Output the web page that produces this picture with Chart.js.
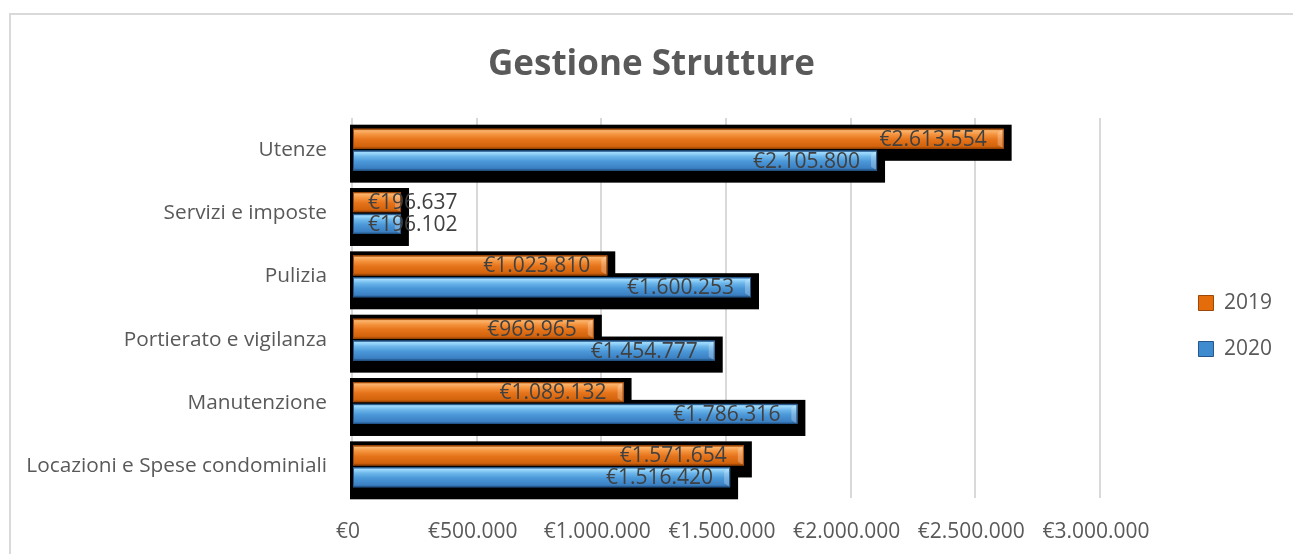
<!DOCTYPE html>
<html>
<head>
<meta charset="utf-8">
<script src="https://cdn.jsdelivr.net/npm/chart.js@4.4.0/dist/chart.umd.min.js"></script>
<style>
    html, body { margin: 0; padding: 0; background: #fff; overflow: hidden; }
    #wrap { position: relative; width: 1293px; height: 554px; }
    #frame { position: absolute; left: 9px; top: 13px; width: 1300px; height: 600px; border: 2px solid #d9d9d9; pointer-events: none; }
</style>
</head>
<body>
<div id="wrap">
    <canvas id="costChart" width="1293" height="554"></canvas>
    <div id="frame"></div>
</div>
<script>
// Dati
var categories = ['Utenze', 'Servizi e imposte', 'Pulizia', 'Portierato e vigilanza', 'Manutenzione', 'Locazioni e Spese condominiali'];
var seriesNames = ['2019', '2020'];
var values2019 = [2613554, 196637, 1023810, 969965, 1089132, 1571654];
var values2020 = [2105800, 196102, 1600253, 1454777, 1786316, 1516420];
var tickValues = [0, 500000, 1000000, 1500000, 2000000, 2500000, 3000000];
var tickMax = 3000000;

function euro(v) {
    return '€' + Math.round(v).toString().replace(/\B(?=(\d{3})+(?!\d))/g, '.');
}

var fontName = '"Open Sans", "DejaVu Sans", sans-serif';

var barColors = {
    '2019': ['#a84c08', '#fbb46c', '#f4923c', '#e5731a', '#d2630c', '#9c4607'],
    '2020': ['#2a5f94', '#a2ddff', '#6cb6ea', '#4a97d8', '#3b80c3', '#24568a']
};

// ombra nera dietro le barre
var shadowPlugin = {
    id: 'shadow',
    beforeDatasetsDraw: function(chart) {
        var ctx = chart.ctx;
        ctx.save();
        ctx.fillStyle = '#000';
        chart.data.datasets.forEach(function(ds, i) {
            chart.getDatasetMeta(i).data.forEach(function(el) {
                var top = el.y - el.height / 2;
                var left = Math.min(el.base, el.x);
                var w = Math.abs(el.x - el.base);
                ctx.fillRect(left - 3, top - 4, w + 3 + 8, el.height + 4 + 12);
            });
        });
        ctx.restore();
    }
};

// effetto rilievo + etichette
var bevelPlugin = {
    id: 'bevel',
    afterDatasetsDraw: function(chart) {
        var ctx = chart.ctx;
        ctx.save();
        chart.data.datasets.forEach(function(ds, i) {
            var stops = barColors[ds.label];
            chart.getDatasetMeta(i).data.forEach(function(el) {
                var top = el.y - el.height / 2;
                var h = el.height;
                var left = Math.min(el.base, el.x);
                var right = Math.max(el.base, el.x);
                var g = ctx.createLinearGradient(0, top, 0, top + h);
                g.addColorStop(0, stops[0]);
                g.addColorStop(0.1, stops[1]);
                g.addColorStop(0.3, stops[2]);
                g.addColorStop(0.55, stops[3]);
                g.addColorStop(0.88, stops[4]);
                g.addColorStop(1, stops[5]);
                ctx.fillStyle = g;
                ctx.fillRect(left, top, right - left, h);
                // smusso all'estremità
                ctx.fillStyle = 'rgba(255,255,255,0.25)';
                ctx.beginPath();
                ctx.moveTo(right, top);
                ctx.lineTo(right - 6, top + 4);
                ctx.lineTo(right - 6, top + h - 4);
                ctx.lineTo(right, top + h);
                ctx.closePath();
                ctx.fill();
                ctx.strokeStyle = stops[5];
                ctx.lineWidth = 1;
                ctx.strokeRect(left + 0.5, top + 0.5, right - left - 1, h - 1);
            });
        });

        ctx.font = '21px ' + fontName;
        ctx.fillStyle = '#404040';
        ctx.textBaseline = 'middle';
        ctx.textAlign = 'left';
        chart.data.datasets.forEach(function(ds, i) {
            chart.getDatasetMeta(i).data.forEach(function(el, j) {
                var txt = euro(ds.data[j]);
                var tw = ctx.measureText(txt).width;
                var x = Math.max(el.x - 17 - tw, el.base + 15);
                ctx.fillText(txt, x, el.y + 1);
            });
        });
        ctx.restore();
    }
};

function draw() {
    var ctx = document.getElementById('costChart').getContext('2d');
    var costChart = new Chart(ctx, {
        type: 'bar',
        data: {
            labels: categories,
            datasets: [
                { label: seriesNames[0], data: values2019, backgroundColor: '#e46c0a', borderColor: '#9c4607', borderWidth: 1 },
                { label: seriesNames[1], data: values2020, backgroundColor: '#3f8bd0', borderColor: '#24568a', borderWidth: 1 }
            ]
        },
        options: {
            indexAxis: 'y',
            responsive: false,
            animation: false,
            categoryPercentage: 0.69,
            barPercentage: 0.92,
            layout: { padding: { left: 21, right: 11, top: 0, bottom: 0 } },
            scales: {
                x: {
                    min: 0,
                    max: 3300000,
                    grid: { color: '#d9d9d9', lineWidth: 2, drawTicks: false },
                    border: { display: false },
                    ticks: {
                        color: '#595959',
                        font: { family: fontName, size: 21 },
                        padding: 21,
                        labelOffset: -4,
                        maxRotation: 0,
                        autoSkip: false,
                        callback: function(v) { return euro(v); }
                    },
                    afterBuildTicks: function(scale) {
                        scale.ticks = tickValues.map(function(v) { return { value: v }; });
                    },
                    afterFit: function(scale) { scale.height = 56; }
                },
                y: {
                    grid: { display: false, drawTicks: false },
                    border: { display: false },
                    ticks: {
                        color: '#595959',
                        font: { family: fontName, size: 20.8 },
                        padding: 25
                    },
                    afterFit: function(scale) { scale.width = 331; }
                }
            },
            plugins: {
                title: {
                    display: true,
                    text: 'Gestione Strutture',
                    color: '#595959',
                    font: { family: fontName, size: 35, weight: 'bold' },
                    padding: { top: 43.6, bottom: 32.4 }
                },
                legend: {
                    position: 'right',
                    title: {
                        display: true,
                        text: ' ',
                        font: { size: 10 },
                        padding: { top: 86, bottom: 0 }
                    },
                    labels: {
                        color: '#595959',
                        font: { family: fontName, size: 21 },
                        boxWidth: 15,
                        boxHeight: 15,
                        padding: 25
                    }
                },
                tooltip: { enabled: false }
            }
        },
        plugins: [shadowPlugin, bevelPlugin]
    });

    // €3.000.000 deve cadere a x=1100 come nell'originale
    var area = costChart.chartArea;
    costChart.options.scales.x.max = tickMax * (area.right - area.left) / (1100 - area.left);
    costChart.update();
}

if (document.fonts && document.fonts.load) {
    Promise.all([
        document.fonts.load('21px "Open Sans"'),
        document.fonts.load('bold 35px "Open Sans"')
    ]).then(draw, draw);
} else {
    draw();
}
</script>
</body>
</html>
